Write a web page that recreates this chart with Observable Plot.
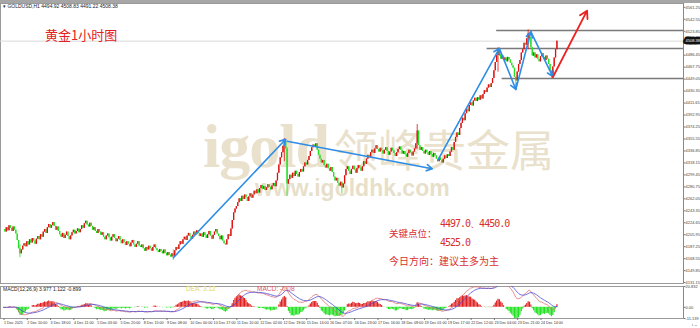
<!DOCTYPE html>
<html><head><meta charset="utf-8">
<script src="https://cdn.jsdelivr.net/npm/d3@7"></script>
<script src="https://cdn.jsdelivr.net/npm/@observablehq/plot@0.6"></script>
<style>
body{margin:0;background:#fff;}
#wrap{position:relative;width:700px;height:328px;overflow:hidden;font-family:"Liberation Sans",Arial,sans-serif;background:#fff;}
#wrap svg{position:absolute;left:0;}
.abs{position:absolute;white-space:nowrap;}
</style></head><body><div id="wrap"></div>
<script>
// ---------- data ----------
const closes = [
4214,4210,4217,4212,4220,4216,4211,4218,4213,4207,
4197,4184,4176,4182,4188,
4192,4187,4195,4190,4198,4193,4200,4196,4191,4199,4203,4198,
4206,4202,4210,4214,4208,4217,4222,4216,4220,4225,4219,4213,4218,4211,4206,
4202,4208,4200,4205,4210,4203,4198,4204,4209,4213,4207,4211,4215,4209,
4214,4220,4216,4223,4227,4221,4218,4224,4219,4213,4217,4211,4208,4214,4210,
4205,4209,4202,4198,4204,4207,4201,4196,4202,4206,4200,4195,4199,4203,
4197,4192,4198,4194,4189,4195,4191,4187,4193,4197,4190,4186,4191,4195,4188,
4186,4190,4184,4180,4186,4182,4188,4184,4180,4186,4190,4184,4181,4178,4183,
4180,4176,4182,4177,4173,4178,4174,4171,4176,4172,
4181,4186,4183,4190,4195,4191,4198,4202,4197,4204,4208,4203,4199,4205,4210,4206,4212,4208,4203,
4207,4202,4209,4205,4200,4206,4211,4204,4199,4205,4210,4214,4207,4203,4198,4204,4196,4192,
4190,4198,4206,4203,4215,4228,4240,4246,
4250,4256,4262,4258,4266,4261,4268,4264,4258,4265,4270,4263,4268,4274,4270,
4276,4271,4278,4283,4277,4281,4275,4279,4284,4280,4276,4282,4286,4281,
4290,4302,4315,4326,4334,4344,4350,4340,
4285,4292,4299,4294,4302,4297,4305,4300,4296,4303,4308,4304,
4312,4318,4315,4322,4328,4336,4342,4346,4343,4348,
4338,4330,4324,4318,4322,4314,4310,4316,4309,4305,4311,4303,
4296,4290,4294,4286,4282,4288,4279,4285,4298,4308,
4312,4305,4300,4308,4313,4307,4302,4309,4314,4310,4305,4312,
4320,4316,4324,4330,4326,4334,4338,4333,4340,4345,4339,4335,4341,4337,
4332,4338,4342,4336,4330,4335,4341,4337,4333,4328,4334,4339,4343,4338,4332,4336,4331,4327,4333,4338,4334,4329,4335,
4340,4348,4368,4345,4338,4342,4336,4332,4338,4334,4330,4336,4331,4327,4333,4329,4324,4320,4326,
4322,4318,4324,4329,4325,4331,4328,
4335,4342,4338,4350,4358,4365,4361,4372,4380,4388,4384,4395,4402,4398,4408,
4412,4407,4415,4419,4414,4420,4416,4423,4418,
4425,4431,4428,4435,4440,4436,4442,4450,
4462,4475,4486,4494,
4488,4480,4485,4478,4482,4476,4483,4479,4474,4470,4466,
4452,4446,
4460,4472,4478,4490,4495,4505,4502,4512,4520,4514,
4498,4485,4490,4482,4487,4480,4476,4484,4489,4483,4478,4485,4480,4472,
4462,4456,4468,4482,4495,4508.38
];
// notable wicks: bar index, high, low
const wickBars  = [12,   124,  205,  207,  247,  302,  361,  374,  383,  400];
const wickHigh  = [4190, 4182, 4356, 4342, 4286, 4378, 4498, 4452, 4526, 4460];
const wickLow   = [4170, 4166, 4320, 4266, 4270, 4340, 4460, 4438, 4495, 4450];

const priceTicks = [4131.15,4149.85,4168.55,4187.25,4205.95,4224.65,4243.35,4262.05,4280.75,4299.45,4318.15,4336.85,4355.55,4374.25,4392.95,4411.65,4430.35,4449.05,4467.75,4486.45,4523.85,4542.55,4561.25];
const lastPrice = 4508.38;
const keyLevels = [4525, 4497, 4450];
const keyLevelFromBar = [360, 353, 364];

const timeLabels = ["1 Dec 2025","2 Dec 10:00","3 Dec 18:00","4 Dec 11:00","5 Dec 03:00","5 Dec 20:00","8 Dec 15:00","9 Dec 08:00","10 Dec 00:00","10 Dec 17:00","11 Dec 10:00","12 Dec 02:00","12 Dec 19:00","15 Dec 14:00","16 Dec 07:00","16 Dec 23:00","17 Dec 16:00","18 Dec 09:00","19 Dec 01:00","19 Dec 17:00","22 Dec 12:00","23 Dec 04:00","23 Dec 21:00","24 Dec 14:00"];
const timeLabelBars = [0,17,34,51,68,85,102,119,136,153,170,187,204,221,238,256,273,290,307,324,341,358,375,392];

// trend arrows (bar index, price)
const arrowFromBar   = [124, 207, 317, 362, 374, 385];
const arrowFromPrice = [4170, 4352, 4322, 4497, 4433, 4523];
const arrowToBar     = [206, 313, 362, 374, 385, 401];
const arrowToPrice   = [4355, 4309, 4497, 4433, 4523, 4453];
const redArrow = {fromBar: 401, fromPrice: 4452, toBar: 426, toPrice: 4556};

const macdHeader = "MACD(12,26,9)  3.977 1.122 -0.899";
const macdTicks = [20.832, 0, -11.139];
const chartHeader = "GOLDUSD,H1  4494.92 4508.83 4491.22 4508.38";

// ---------- build ----------
const candles = closes.map((c, i) => {
  const o = i ? closes[i - 1] : c;
  return {i, o, c, h: Math.max(o, c), l: Math.min(o, c)};
});
wickBars.forEach((b, k) => { if (candles[b]) { candles[b].h = Math.max(candles[b].h, wickHigh[k]); candles[b].l = Math.min(candles[b].l, wickLow[k]); } });

function ema(arr, n) { const a = 2 / (n + 1); const out = []; arr.forEach((v, i) => out.push(i ? a * v + (1 - a) * out[i - 1] : v)); return out; }
const e12 = ema(closes, 12), e26 = ema(closes, 26);
const dif = closes.map((_, i) => e12[i] - e26[i]);
const dea = ema(dif, 9);
const macd = dif.map((d, i) => ({i, dif: d, dea: dea[i], hist: 2 * (d - dea[i])}));

const xDomain = [-2.2, 496.4];
const UP = "#e01010", DOWN = "#22dd22";
const wrap = document.getElementById("wrap");

const bar = document.createElement("div");
bar.className = "abs"; bar.style.cssText = "left:0;top:0;width:700px;height:3px;background:#a6a6a6;";
wrap.appendChild(bar);

function addText(txt, css) { const d = document.createElement("div"); d.className = "abs"; d.textContent = txt; d.style.cssText = css; wrap.appendChild(d); return d; }
addText("igold", "left:203px;top:121px;font:bold 62px 'Liberation Serif',serif;line-height:50px;color:#e9e1cc;letter-spacing:-1px;");
addText("领峰贵金属", "left:334px;top:128px;font:400 44px 'Noto Sans CJK SC',sans-serif;color:#e9e1cc;line-height:40px;");
addText("www.igoldhk.com", "left:255px;top:178px;font:bold 23px 'Liberation Sans',Arial,sans-serif;line-height:20px;color:#e7dfc9;");

const price = Plot.plot({
  width: 700, height: 284, marginLeft: 0, marginRight: 17, marginTop: 3, marginBottom: 1,
  x: {domain: xDomain, axis: null},
  y: {domain: [4129.7, 4567.2], axis: null},
  style: {background: "transparent", fontFamily: "'Liberation Sans',Arial,sans-serif", overflow: "visible"},
  marks: [
    Plot.frame({stroke: "#9a9a9a"}),
    Plot.ruleY([lastPrice], {stroke: "#d8d8d8", strokeWidth: 1}),
    Plot.ruleY(keyLevels, {y: d => d, x1: (d, k) => keyLevelFromBar[k], x2: xDomain[1], stroke: "#7a7a7a", strokeWidth: 1.5}),
    Plot.ruleX(candles, {x: "i", y1: "l", y2: "h", stroke: d => d.c >= d.o ? UP : DOWN, strokeWidth: 0.8}),
    Plot.ruleX(candles, {x: "i", y1: "o", y2: "c", stroke: d => d.c >= d.o ? UP : DOWN, strokeWidth: 1.3}),
    Plot.arrow(arrowFromBar, {x1: d => d, y1: (d, k) => arrowFromPrice[k], x2: (d, k) => arrowToBar[k], y2: (d, k) => arrowToPrice[k], stroke: "#2e8de6", strokeWidth: 1.6, headLength: 6}),
    Plot.arrow([redArrow], {x1: "fromBar", y1: "fromPrice", x2: "toBar", y2: "toPrice", stroke: "#ee2020", strokeWidth: 1.8, headLength: 7}),
    Plot.axisY(priceTicks, {anchor: "right", tickSize: 1.5, tickPadding: 0.5, fontSize: 4, tickFormat: d => d.toFixed(2), stroke: "#777", fill: "#444"}),
    Plot.ruleX([xDomain[1]], {stroke: "#888"}),
    Plot.text([lastPrice], {x: xDomain[1], y: d => d, text: d => d.toFixed(2), textAnchor: "start", dx: 2, fontSize: 4, fill: "#fff", stroke: "#111", strokeWidth: 5})
  ]
});
price.style.top = "0px";
wrap.appendChild(price);

const sub = Plot.plot({
  width: 700, height: 44, marginLeft: 0, marginRight: 17, marginTop: 2, marginBottom: 10,
  x: {domain: xDomain, axis: null},
  y: {domain: [macdTicks[2], macdTicks[0]], axis: null},
  style: {background: "transparent", fontFamily: "'Liberation Sans',Arial,sans-serif", overflow: "visible"},
  marks: [
    Plot.frame({stroke: "#9a9a9a"}),
    Plot.ruleX(macd, {x: "i", y1: 0, y2: "hist", stroke: d => d.hist >= 0 ? "#e02020" : "#22e022", strokeWidth: 1.2, clip: true}),
    Plot.line(macd, {x: "i", y: "dif", stroke: "#e07070", strokeWidth: 0.8, clip: true}),
    Plot.line(macd, {x: "i", y: "dea", stroke: "#4a4ad8", strokeWidth: 0.8, clip: true}),
    Plot.axisY(macdTicks, {anchor: "right", tickSize: 1.5, tickPadding: 0.5, fontSize: 4, tickFormat: d => d === 0 ? "0.00" : String(d), stroke: "#777", fill: "#444"}),
    Plot.ruleX([xDomain[1]], {stroke: "#888"}),
    Plot.axisX(timeLabelBars, {anchor: "bottom", tickSize: 2, tickPadding: 1, fontSize: 3.7, textAnchor: "start", dx: 0.5, tickFormat: (d) => timeLabels[timeLabelBars.indexOf(d)], stroke: "#777", fill: "#333"})
  ]
});
sub.style.top = "284px";
wrap.appendChild(sub);

addText("▾ " + chartHeader, "left:3px;top:3px;font:5px 'Liberation Sans',Arial;color:#222;");
addText(macdHeader, "left:3px;top:286px;font:5px 'Liberation Sans',Arial;color:#222;");
addText("DEA: 3.12", "left:186px;top:285px;font:6.5px 'Liberation Sans',Arial;color:#e6d85a;");
addText("MACD: -0.08", "left:257px;top:285px;font:6.5px 'Liberation Sans',Arial;color:#e05a5a;");
addText("黄金1小时图", "left:45px;top:27px;font:13px 'Noto Sans CJK SC',sans-serif;color:#e42020;line-height:16px;");
addText("关键点位：", "left:389px;top:227px;font:9.5px 'Noto Sans CJK SC',sans-serif;color:#d83030;line-height:12px;");
addText("4497.0、4450.0", "left:440px;top:218px;font:10px 'DejaVu Sans Mono',monospace;letter-spacing:-1px;color:#d83030;line-height:12px;");
addText("4525.0", "left:440px;top:237px;font:10px 'DejaVu Sans Mono',monospace;letter-spacing:-1px;color:#d83030;line-height:12px;");
addText("今日方向：建议主多为主", "left:389px;top:255px;font:10px 'Noto Sans CJK SC',sans-serif;color:#d83030;line-height:12px;");
</script></body></html>
